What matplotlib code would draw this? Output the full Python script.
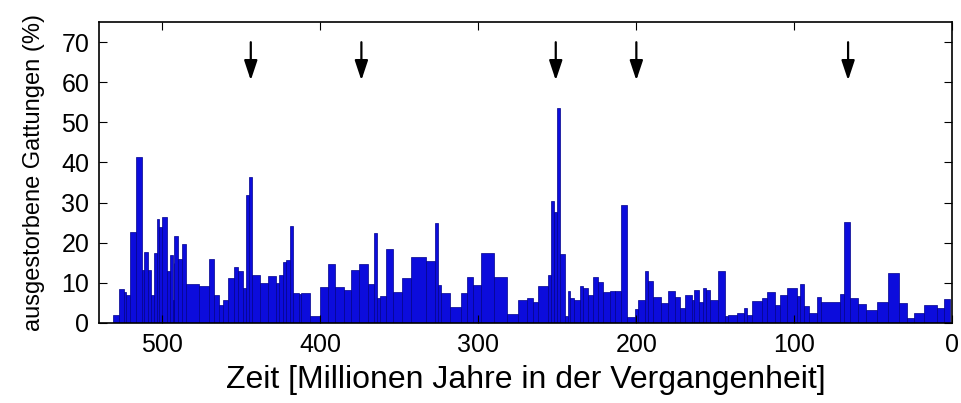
import matplotlib
matplotlib.use("Agg")
import matplotlib.pyplot as plt
import numpy as np

plt.rcParams['font.family'] = ['Liberation Sans', 'DejaVu Sans']

# Intervallgrenzen (Millionen Jahre vor heute), von alt nach jung
edges_ma = [531, 527.2, 524.1, 523, 520.3, 516.7, 513.1, 511.4, 509.3, 507.2,
            505, 503.4, 501.9, 500.4, 497, 494.9, 493.4, 492.9, 492.4, 490.3,
            487.8, 485, 477, 470.2, 467.5, 464.3, 461.3, 458.6, 454.8, 452.2,
            449.1, 446.9, 445.3, 443.2, 438.1, 433.3,
            428, 425.9, 423.3, 421.6, 419.1, 417, 413.6, 412.1, 406.4, 400.5,
            395.2, 391, 384.7, 380.4, 375.2, 369.9, 366.3, 364.2, 362, 358.2,
            354.1, 348.1, 342.4, 332.9, 327.6,
            325.5, 323.4, 318.1, 311.2, 307.1, 303.3, 298, 290.2, 281.8, 274.8,
            269.5, 265.3, 262.1, 255.8, 254.3, 252.2, 250.1, 248, 245.2, 243.1,
            242.1, 239.5, 235.7, 233.6, 230.5, 227.3, 224.1, 221,
            216.7, 213.6, 210, 206.2, 200.9, 198.8, 194.6, 192.5, 189.3, 184.6,
            179.8, 175.5, 172.4, 169.2, 165, 163.3, 160.1, 158, 155.9, 153.4,
            148.1, 143.9, 141.8, 136.4, 131.8, 129.7, 126.9, 120.6, 117.4, 112.2,
            109,
            104.8, 98.4, 96.3, 93.8, 91, 85.7, 83.2, 71, 68.4, 64.6,
            60, 54.5, 47.7, 41, 34, 28.7, 24.1, 17.7, 9.7, 5.1, 1.3]

# ausgestorbene Gattungen in %, je Intervall
extinct_pct = [2, 8.4, 7.8, 6.9, 22.6, 41.3, 13.2, 17.6, 13.2,
               7.0, 17.4, 26, 24, 26.4, 13, 17, 5.7, 15, 21.7,
               16, 19.6, 9.6, 9.3, 16, 6.9, 4.5, 5.7, 11.2, 14,
               13, 8.7, 31.8, 36.3, 11.9, 10,
               11.7, 10, 12, 15.2, 15.7, 24.2, 7.4, 7.2, 7.5, 1.6,
               8.9, 14.6, 8.9, 8.3, 13.2, 14.6, 9.7, 22.3, 6.1, 6.6,
               18.4, 7.8, 11.1, 16.5, 15.4,
               25, 9.4, 7.5, 3.9, 7.5, 11.5, 9.4, 17.5, 11.5, 2.2,
               5.7, 6.2, 5.2, 9.2, 11.9, 30.5, 27.6, 53.7, 17.1, 1.6,
               8, 6.2, 5.8, 9.2, 8.7, 7, 11.5, 10.3,
               7.8, 7.9, 8, 29.5, 1.4, 3.5, 5.7, 13, 10.5, 6.5,
               5.0, 7.9, 6.5, 3.6, 7, 5.8, 8.3, 5.2, 8.8, 8.1,
               5.7, 13, 1.6, 2, 2.5, 3.6, 2, 5.5, 6.1, 7.7,
               4.4,
               6.9, 8.6, 6.7, 9.8, 4.3, 2.4, 6.5, 5.3, 7.2, 25.1,
               6.1, 4.7, 3.1, 5.3, 12.5, 5.0, 1.2, 2.5, 4.4, 3.6, 5.9]

assert len(edges_ma) == len(extinct_pct) + 1

# Massenaussterben (Pfeile)
events_ma = [444, 374, 251, 200, 66]

x_ticks = [500, 400, 300, 200, 100, 0]
y_ticks = [0, 10, 20, 30, 40, 50, 60, 70]

fig = plt.figure(figsize=(9.62, 4.03), dpi=100)
ax = fig.add_axes([0.103, 0.199, 0.887, 0.746])

e = np.array(edges_ma)
young = e[1:]
width = e[:-1] - e[1:]
ax.bar(young, extinct_pct, width=width, align='edge',
       color='#0c0cdc', edgecolor='#00008a', linewidth=0.5)

for t in events_ma:
    ax.annotate('', xy=(t, 60.5), xytext=(t, 70),
                arrowprops=dict(arrowstyle='-|>,head_length=1.2,head_width=0.4',
                                color='k', lw=1.6, shrinkA=0, shrinkB=0))

ax.set_xlim(540, 0)
ax.set_ylim(0, 75)
ax.set_xticks(x_ticks)
ax.set_yticks(y_ticks)
ax.tick_params(direction='in', top=True, right=True, length=6, width=0.8,
               labelsize=18, pad=7)
for s in ax.spines.values():
    s.set_linewidth(1.2)

ax.set_xlabel('Zeit [Millionen Jahre in der Vergangenheit]', fontsize=23, labelpad=6)
ax.set_ylabel('ausgestorbene Gattungen (%)', fontsize=17, labelpad=12)

fig.savefig('out.png', dpi=100)
